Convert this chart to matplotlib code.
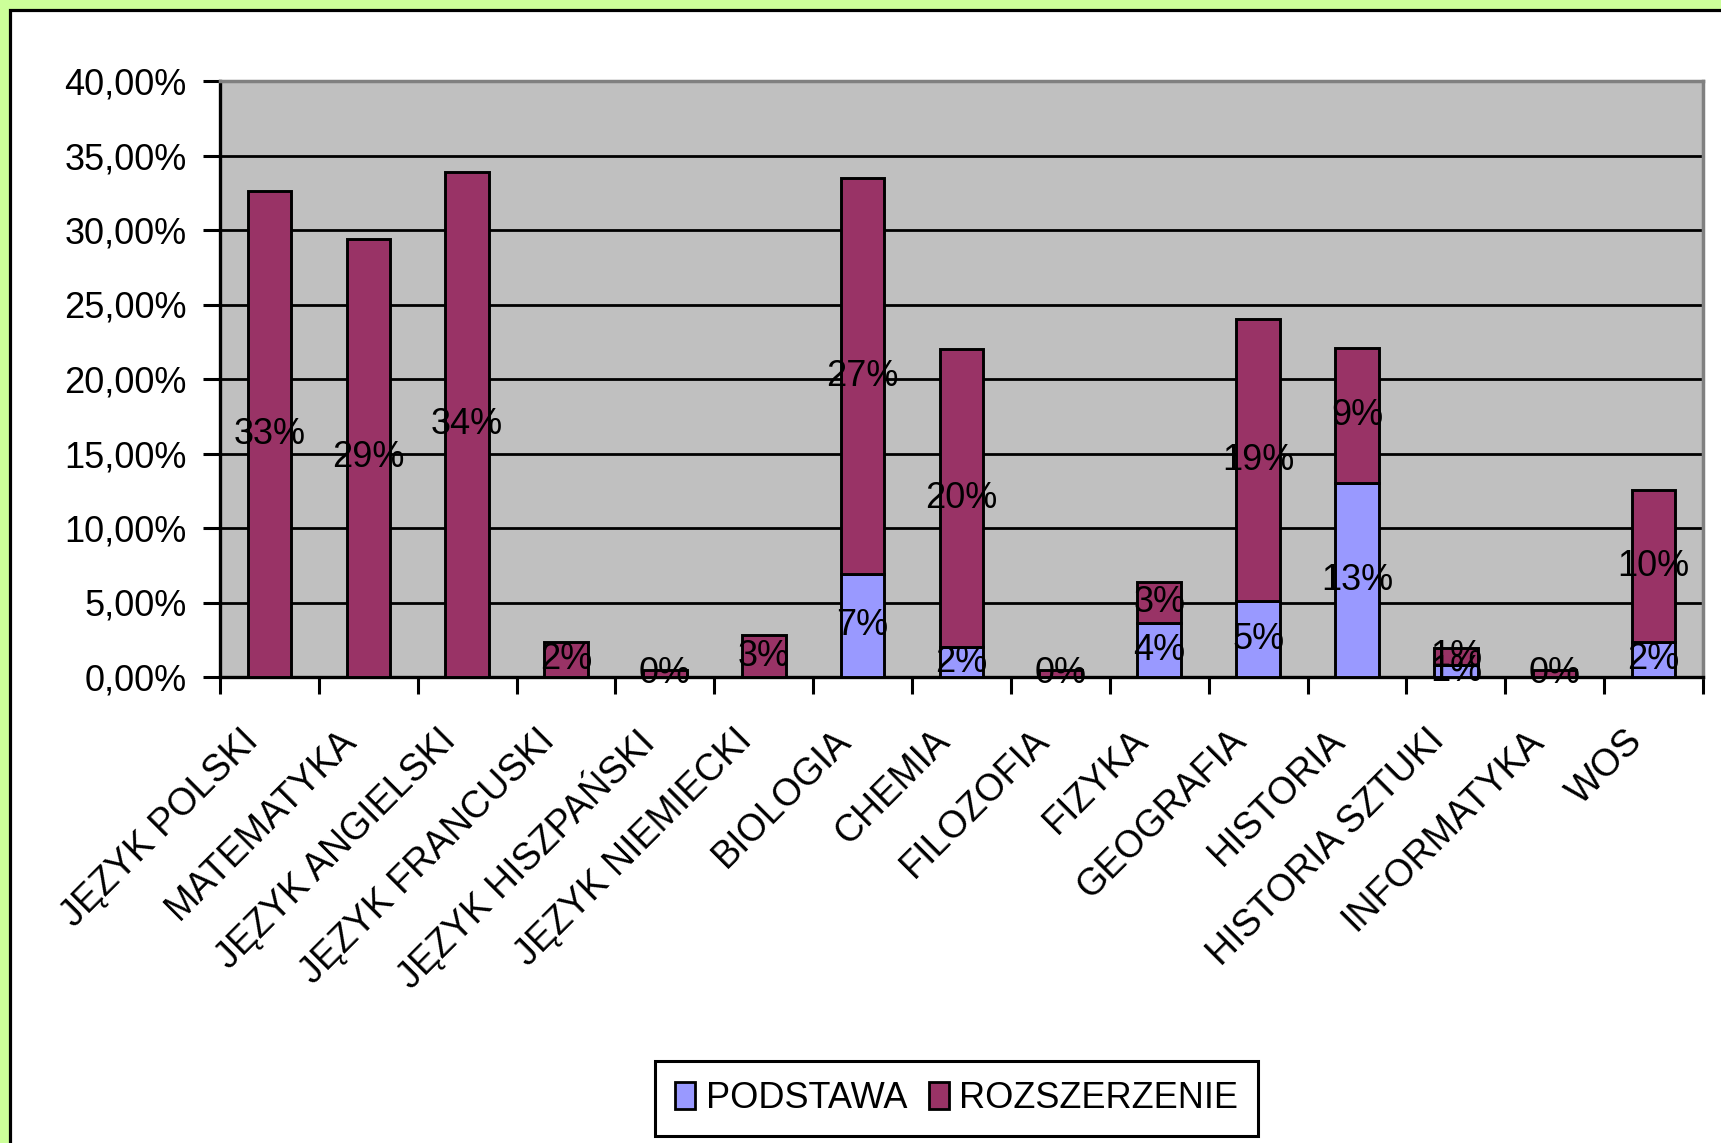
import numpy as np
import matplotlib
matplotlib.use('Agg')
import matplotlib.pyplot as plt
from matplotlib.patches import Rectangle
from matplotlib.ticker import FuncFormatter, MultipleLocator, FixedLocator
import matplotlib.transforms as mtransforms

plt.rcParams['font.family'] = ['Liberation Sans', 'DejaVu Sans']

# dane (w procentach)
przedmioty = ['JĘZYK POLSKI', 'MATEMATYKA', 'JĘZYK ANGIELSKI', 'JĘZYK FRANCUSKI',
              'JĘZYK HISZPAŃSKI', 'JĘZYK NIEMIECKI', 'BIOLOGIA', 'CHEMIA',
              'FILOZOFIA', 'FIZYKA', 'GEOGRAFIA', 'HISTORIA', 'HISTORIA SZTUKI',
              'INFORMATYKA', 'WOS']
podstawa = [None, None, None, None, None, None, 6.9, 2.0, None, 3.6, 5.1, 13.0, 0.8, None, 2.35]
rozszerzenie = [32.6, 29.4, 33.9, 2.36, 0.44, 2.8, 26.6, 20.0, 0.44, 2.8, 18.9, 9.06, 1.15, 0.44, 10.17]

kolor_podst = '#9999FF'
kolor_rozsz = '#993366'
W, H = 1721, 1143

fig = plt.figure(figsize=(W / 100, H / 100), dpi=100)
fig.patch.set_facecolor('#CCFF99')
# biała ramka wykresu (obcięta z prawej i z dołu)
fig.patches.append(Rectangle((9.5 / W, -0.05), 1.1, 1 - 9.5 / H + 0.05, transform=fig.transFigure,
                             facecolor='white', edgecolor='black', linewidth=2.3, zorder=-5))

ax = fig.add_axes([220 / W, 1 - 677 / H, (1703 - 220) / W, (677 - 81) / H])
ax.set_facecolor('#C0C0C0')

x = np.arange(len(przedmioty))
p = np.array([v if v is not None else 0 for v in podstawa])
r = np.array(rozszerzenie)
szer = 0.44

ax.bar(x, p, szer, color=kolor_podst, edgecolor='black', linewidth=2.1, zorder=3, label='PODSTAWA')
ax.bar(x, r, szer, bottom=p, color=kolor_rozsz, edgecolor='black', linewidth=2.1, zorder=3,
       label='ROZSZERZENIE')

# etykiety danych
for i in range(len(przedmioty)):
    if podstawa[i] is not None:
        ax.text(x[i], p[i] / 2, f'{int(round(p[i]))}%', ha='center', va='center',
                fontsize=26, zorder=5)
    ax.text(x[i], p[i] + r[i] / 2, f'{int(round(r[i]))}%', ha='center', va='center',
            fontsize=26, zorder=5)

ax.set_xlim(-0.5, len(przedmioty) - 0.5)
ax.set_ylim(0, 40)
ax.yaxis.set_major_locator(MultipleLocator(5))
ax.yaxis.set_major_formatter(FuncFormatter(lambda v, pos: f'{v:.2f}%'.replace('.', ',')))
ax.grid(axis='y', color='black', linewidth=2.0, zorder=1)
ax.set_axisbelow(True)

ax.set_xticks(x)
ax.set_xticklabels(przedmioty, rotation=45, ha='right', va='center', rotation_mode='anchor')
ax.xaxis.set_minor_locator(FixedLocator(np.arange(-0.5, len(przedmioty), 1.0)))
ax.tick_params(axis='x', which='major', length=0, pad=42, labelsize=27)
ax.tick_params(axis='x', which='minor', length=12, width=2.2, direction='out')
ax.tick_params(axis='y', length=12, width=2.2, direction='out', pad=12, labelsize=26)

przes = mtransforms.ScaledTranslation(-17 / 100, 0, fig.dpi_scale_trans)
for lab in ax.get_xticklabels():
    lab.set_transform(lab.get_transform() + przes)

for s in ['left', 'bottom']:
    ax.spines[s].set_color('black')
    ax.spines[s].set_linewidth(2.4)
for s in ['top', 'right']:
    ax.spines[s].set_color('#808080')
    ax.spines[s].set_linewidth(2.5)

leg = fig.legend(loc='center', bbox_to_anchor=(956.6 / W, 44.3 / H), ncol=2, fontsize=26,
                 frameon=True, fancybox=False, framealpha=1, handlelength=0.55, handleheight=0.75,
                 handletextpad=0.3, columnspacing=0.6, borderpad=0.55)
leg.get_frame().set_edgecolor('black')
leg.get_frame().set_linewidth(2.2)
for h in leg.legend_handles:
    h.set_linewidth(2)

fig.savefig('out.png', dpi=100, facecolor=fig.get_facecolor())
